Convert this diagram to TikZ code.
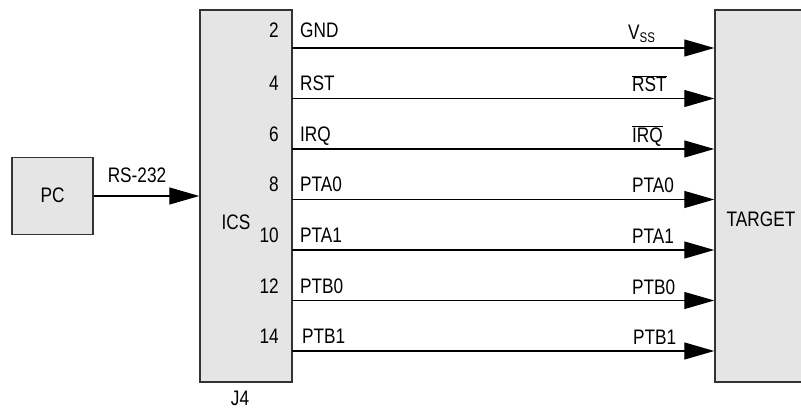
\documentclass[tikz,border=0pt]{standalone}
\usepackage{fontspec}
\setmainfont[FakeStretch=0.82]{Liberation Sans}
\usetikzlibrary{arrows.meta}
\definecolor{boxgray}{RGB}{229,229,229}
\tikzset{
  unit/.style={draw=black!80, line width=1.5pt, fill=boxgray, inner sep=0pt},
  sig/.style={line width=1.3pt, -{Triangle[length=30pt,width=17pt]}},
  lbl/.style={inner sep=0pt, font=\fontsize{21}{24}\selectfont},
}

\begin{document}
\begin{tikzpicture}[x=1pt, y=-1pt]
	%%%%% START %%%%%
	\useasboundingbox (0, 0) rectangle (801, 409);

	\node[unit, minimum width=81pt, minimum height=77pt] (pc) at (52.5, 196) {};
	\node[unit, minimum width=92pt, minimum height=372pt] (ics) at (246, 196) {};
	\node[unit, minimum width=90pt, minimum height=372pt] (tgt) at (760, 196) {};
	\node[lbl] (pcname) at (52.5, 195) {PC};
	\node[lbl] (icsname) at (236, 222.5) {ICS};
	\node[lbl] (tgtname) at (761, 219) {TARGET};
	\node[lbl] (jfour) at (240, 398) {J4};

	\draw[sig] (pc.east) -- (ics.west |- pc.east);
	\node[lbl, anchor=base] (rs) at (137, 182.7) {RS-232};

	% pin rows
	\coordinate (r2) at (292, 48);
	\coordinate (r4) at (292, 98.5);
	\coordinate (r6) at (292, 149);
	\coordinate (r8) at (292, 199.5);
	\coordinate (r10) at (292, 250);
	\coordinate (r12) at (292, 300.5);
	\coordinate (r14) at (292, 351);

	\draw[sig] (r2) -- (tgt.west |- r2);
	\draw[sig] (r4) -- (tgt.west |- r4);
	\draw[sig] (r6) -- (tgt.west |- r6);
	\draw[sig] (r8) -- (tgt.west |- r8);
	\draw[sig] (r10) -- (tgt.west |- r10);
	\draw[sig] (r12) -- (tgt.west |- r12);
	\draw[sig] (r14) -- (tgt.west |- r14);

	\node[lbl, anchor=base east] (p2) at (279, 37.7) {2};
	\node[lbl, anchor=base east] (p4) at (279, 91) {4};
	\node[lbl, anchor=base east] (p6) at (279, 141.5) {6};
	\node[lbl, anchor=base east] (p8) at (279, 192) {8};
	\node[lbl, anchor=base east] (p10) at (279, 242.5) {10};
	\node[lbl, anchor=base east] (p12) at (279, 293) {12};
	\node[lbl, anchor=base east] (p14) at (279, 343.5) {14};

	\node[lbl, anchor=base west] (gnd) at (300, 37.7) {GND};
	\node[lbl, anchor=base west] (rst) at (300, 91) {RST};
	\node[lbl, anchor=base west] (irq) at (300, 141.5) {IRQ};
	\node[lbl, anchor=base west] (ptaz) at (300, 192) {PTA0};
	\node[lbl, anchor=base west] (ptao) at (300, 242.5) {PTA1};
	\node[lbl, anchor=base west] (ptbz) at (300, 293) {PTB0};
	\node[lbl, anchor=base west] (ptbo) at (302, 343.5) {PTB1};

	\node[lbl, anchor=base west] (vss) at (628, 40) {V\raisebox{-2.5pt}{\fontsize{14}{16}\selectfont SS}};
	\node[lbl, anchor=base west] (nrst) at (632, 92) {$\overline{\mbox{RST}}$};
	\node[lbl, anchor=base west] (nirq) at (632, 142.5) {$\overline{\mbox{IRQ}}$};
	\node[lbl, anchor=base west] (tptaz) at (632, 193) {PTA0};
	\node[lbl, anchor=base west] (tptao) at (632, 243.5) {PTA1};
	\node[lbl, anchor=base west] (tptbz) at (632, 294) {PTB0};
	\node[lbl, anchor=base west] (tptbo) at (633, 344.5) {PTB1};
	%%%%% END %%%%%
\end{tikzpicture}
\end{document}
